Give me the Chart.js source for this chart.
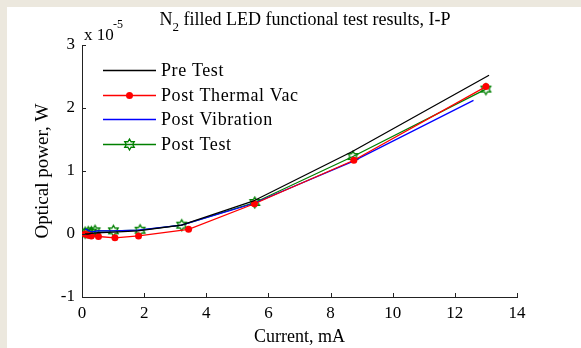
<!DOCTYPE html>
<html>
<head>
<meta charset="utf-8">
<script src="https://cdn.jsdelivr.net/npm/chart.js@4/dist/chart.umd.min.js"></script>
<style>
  html, body { margin: 0; padding: 0; background: #ffffff; }
  #wrap { width: 581px; height: 348px; position: relative; }
</style>
</head>
<body>
<div id="wrap"><canvas id="chart" width="581" height="348"></canvas></div>
<script>
/* ── Data (current in mA, optical power in units of 1e-5 W) ─────────────── */
const PRE_X   = [0.1, 0.2, 0.3, 0.5, 1.0, 1.8, 3.2, 5.5, 8.7, 13.1];
const PRE_Y   = [0.0, 0.0, 0.01, 0.02, 0.03, 0.05, 0.14, 0.52, 1.31, 2.52];

const THERM_X = [0.1, 0.2, 0.3, 0.53, 1.06, 1.82, 3.43, 5.55, 8.75, 13.0];
const THERM_Y = [0.0, -0.02, -0.03, -0.04, -0.06, -0.03, 0.075, 0.48, 1.17, 2.34];

const VIB_X   = [0.1, 0.2, 0.3, 0.5, 1.0, 1.8, 3.2, 5.5, 8.7, 12.6];
const VIB_Y   = [0.08, 0.06, 0.03, 0.05, 0.05, 0.06, 0.14, 0.48, 1.15, 2.12];

const POST_X  = [0.1, 0.2, 0.3, 0.42, 1.01, 1.87, 3.21, 5.56, 8.72, 13.0];
const POST_Y  = [0.02, 0.03, 0.03, 0.05, 0.05, 0.06, 0.14, 0.50, 1.23, 2.30];

const X_TICKS = [0, 2, 4, 6, 8, 10, 12, 14];
const Y_TICKS = [-1, 0, 1, 2, 3];

const SERIF = "'Liberation Serif', 'DejaVu Serif', serif";

/* ── Hexagram marker (open six-pointed star) ──────────────────────────────── */
function makeHexagram(color, r) {
  const size = Math.ceil(r * 2 + 4);
  const c = document.createElement("canvas");
  c.width = size; c.height = size;
  const g = c.getContext("2d");
  const cx = size / 2, cy = size / 2, ri = r / Math.sqrt(3);
  g.beginPath();
  for (let i = 0; i < 12; i++) {
    const a = -Math.PI / 2 + i * Math.PI / 6;
    const rr = i % 2 === 0 ? r : ri;
    const px = cx + rr * Math.cos(a), py = cy + rr * Math.sin(a);
    if (i === 0) g.moveTo(px, py); else g.lineTo(px, py);
  }
  g.closePath();
  g.strokeStyle = color;
  g.lineWidth = 1.3;
  g.stroke();
  return c;
}
const HEX = makeHexagram("#008000", 5.5);

const pts = (xs, ys) => xs.map((x, i) => ({ x, y: ys[i] }));

const SERIES = [
  { label: "Pre Test",          color: "#000000", data: pts(PRE_X, PRE_Y),     marker: null },
  { label: "Post Thermal Vac",  color: "#ff0000", data: pts(THERM_X, THERM_Y), marker: "circle" },
  { label: "Post Vibration",    color: "#0000ff", data: pts(VIB_X, VIB_Y),     marker: null },
  { label: "Post Test",         color: "#008000", data: pts(POST_X, POST_Y),   marker: HEX },
];

/* ── Frame, inward ticks, titles and legend ───────────────────────────────── */
const decorations = {
  id: "decorations",
  beforeDraw(chart) {
    const ctx = chart.ctx;
    ctx.save();
    ctx.fillStyle = "#ece8de";
    ctx.fillRect(0, 0, chart.width, chart.height);
    ctx.fillStyle = "#ffffff";
    ctx.fillRect(7, 7, chart.width - 7, chart.height - 7);
    ctx.restore();
  },
  afterDraw(chart) {
    const ctx = chart.ctx;
    const { left, bottom } = chart.chartArea;
    const xs = chart.scales.x, ys = chart.scales.y;
    ctx.save();

    // inward tick marks
    ctx.strokeStyle = "#222";
    ctx.lineWidth = 1;
    ctx.beginPath();
    X_TICKS.forEach((v) => {
      const px = Math.round(xs.getPixelForValue(v)) + 0.5;
      ctx.moveTo(px, bottom); ctx.lineTo(px, bottom - 4);
    });
    Y_TICKS.forEach((v) => {
      const py = Math.round(ys.getPixelForValue(v)) + 0.5;
      ctx.moveTo(left, py); ctx.lineTo(left + 4, py);
    });
    ctx.stroke();

    ctx.fillStyle = "#000";
    ctx.textBaseline = "alphabetic";
    ctx.textAlign = "left";

    // title with subscript
    const big = "18px " + SERIF, small = "13px " + SERIF;
    const t1 = "N", t2 = "2", t3 = " filled LED functional test results, I-P";
    ctx.font = big;
    const w1 = ctx.measureText(t1).width, w3 = ctx.measureText(t3).width;
    ctx.font = small;
    const w2 = ctx.measureText(t2).width;
    const tx = 305 - (w1 + w2 + w3) / 2;
    ctx.font = big;
    ctx.fillText(t1, tx, 25);
    ctx.font = small;
    ctx.fillText(t2, tx + w1, 31);
    ctx.font = big;
    ctx.fillText(t3, tx + w1 + w2, 25);

    // exponent note
    ctx.font = "17px " + SERIF;
    ctx.fillText("x 10", 84, 40);
    ctx.font = "12px " + SERIF;
    ctx.fillText("-5", 113, 28);

    // legend
    const rows = [70, 95, 119, 144];
    SERIES.forEach((s, i) => {
      const y = rows[i] + 0.5;
      ctx.strokeStyle = s.color;
      ctx.lineWidth = 1.3;
      ctx.beginPath();
      ctx.moveTo(103, y); ctx.lineTo(156, y);
      ctx.stroke();
      if (s.marker === "circle") {
        ctx.fillStyle = s.color;
        ctx.beginPath();
        ctx.arc(129.5, y, 3.5, 0, Math.PI * 2);
        ctx.fill();
      } else if (s.marker) {
        ctx.drawImage(s.marker, 129.5 - s.marker.width / 2, y - s.marker.height / 2);
      }
      ctx.fillStyle = "#000";
      ctx.font = "18px " + SERIF;
      ctx.letterSpacing = "0.6px";
      ctx.textBaseline = "middle";
      ctx.fillText(s.label, 161, rows[i] + 1);
      ctx.letterSpacing = "0px";
    });
    ctx.restore();
  },
};

/* ── Chart ─────────────────────────────────────────────────────────────────── */
new Chart(document.getElementById("chart").getContext("2d"), {
  type: "line",
  data: {
    datasets: SERIES.map((s) => ({
      label: s.label,
      data: s.data,
      borderColor: s.color,
      backgroundColor: s.color,
      borderWidth: 1.3,
      fill: false,
      tension: 0,
      pointStyle: s.marker || "circle",
      pointRadius: s.marker ? (s.marker === "circle" ? 3.5 : 6) : 0,
      pointBorderWidth: 0,
      pointBackgroundColor: s.color,
    })),
  },
  plugins: [decorations],
  options: {
    responsive: false,
    animation: false,
    events: [],
    layout: { padding: { left: 0, right: 64, top: 45, bottom: 0 } },
    plugins: { legend: { display: false }, tooltip: { enabled: false } },
    scales: {
      x: {
        type: "linear",
        min: 0, max: 14,
        afterFit: (s) => { s.height = 51; },
        afterBuildTicks: (s) => { s.ticks = X_TICKS.map((v) => ({ value: v })); },
        grid: { drawOnChartArea: false, drawTicks: false },
        border: { display: true, color: "#222", width: 1 },
        ticks: { color: "#000", padding: 6, font: { family: SERIF, size: 17 } },
        title: {
          display: true, text: "Current, mA", color: "#000",
          font: { family: SERIF, size: 18 }, padding: { top: 0, bottom: 0 },
        },
      },
      y: {
        type: "linear",
        min: -1, max: 3,
        afterFit: (s) => { s.width = 82; },
        afterBuildTicks: (s) => { s.ticks = Y_TICKS.map((v) => ({ value: v })); },
        grid: { drawOnChartArea: false, drawTicks: false },
        border: { display: true, color: "#222", width: 1 },
        ticks: { color: "#000", padding: 7, font: { family: SERIF, size: 17 } },
        title: {
          display: true, text: "Optical power, W", color: "#000",
          font: { family: SERIF, size: 19 }, padding: { top: 32, bottom: 0 },
        },
      },
    },
  },
});
</script>
</body>
</html>
